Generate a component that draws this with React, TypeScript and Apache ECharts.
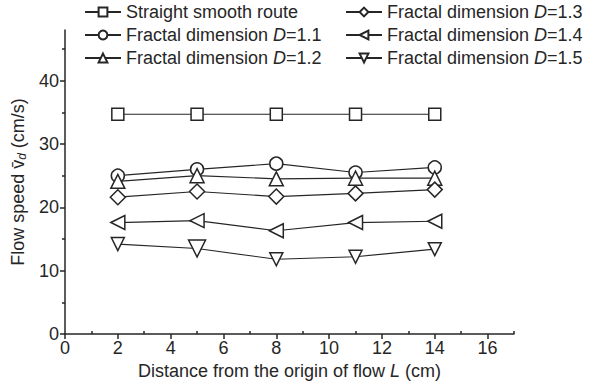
import React, { useEffect, useRef } from "react";
import * as echarts from "echarts";

const distanceL = [2, 5, 8, 11, 14];
const straightRoute = [34.7, 34.7, 34.7, 34.7, 34.7];
const fractal11 = [25.0, 26.0, 26.9, 25.5, 26.3];
const fractal12 = [24.1, 25.0, 24.5, 24.6, 24.6];
const fractal13 = [21.6, 22.5, 21.7, 22.2, 22.8];
const fractal14 = [17.6, 17.9, 16.3, 17.6, 17.8];
const fractal15 = [14.2, 13.5, 11.8, 12.2, 13.4];
const fractal15Sizes = [13, 17, 13, 13, 13];

const xMajorTicks = [0, 2, 4, 6, 8, 10, 12, 14, 16];
const xMinorTicks = [1, 3, 5, 7, 9, 11, 13, 15, 17];
const yMajorTicks = [0, 10, 20, 30, 40];
const yMinorTicks = [5, 15, 25, 35, 45];

const seriesNames = ["S", "D11", "D12", "D13", "D14", "D15"];
const legendLabels: Record<string, string> = {
  S: "{a|Straight smooth route}",
  D11: "{a|Fractal dimension }{i|D}{a|=1.1}",
  D12: "{a|Fractal dimension }{i|D}{a|=1.2}",
  D13: "{a|Fractal dimension }{i|D}{a|=1.3}",
  D14: "{a|Fractal dimension }{i|D}{a|=1.4}",
  D15: "{a|Fractal dimension }{i|D}{a|=1.5}",
};

const FONT = "Liberation Sans, Arial, sans-serif";
const INK = "#262626";
const FS = 18;

export default function App() {
  const ref = useRef<HTMLDivElement>(null);
  useEffect(() => {
    if (!ref.current) return;
    const chart = echarts.init(ref.current, undefined, { renderer: "svg" });
    const mk = (
      name: string,
      values: number[],
      symbol: string,
      size: number,
      rotate = 0,
      sizes?: number[]
    ) => ({
      name,
      type: "line",
      xAxisIndex: 0,
      yAxisIndex: 0,
      symbol,
      symbolSize: size,
      symbolRotate: rotate,
      showAllSymbol: true,
      lineStyle: { color: INK, width: 1.2 },
      itemStyle: { color: "#fff", borderColor: INK, borderWidth: 1.5 },
      data: values.map((v, i) =>
        sizes ? { value: [distanceL[i], v], symbolSize: sizes[i] } : [distanceL[i], v]
      ),
      z: 3,
    });
    const legendCommon = {
      orient: "vertical",
      itemWidth: 36,
      itemHeight: 11,
      itemGap: 5,
      padding: 0,
      formatter: (n: string) => legendLabels[n],
      textStyle: {
        color: INK,
        fontFamily: FONT,
        fontSize: FS,
        rich: {
          a: { fontFamily: FONT, fontSize: FS, color: INK },
          i: { fontFamily: FONT, fontSize: FS, color: INK, fontStyle: "italic" },
        },
      },
    };
    const axisCommon = {
      type: "value",
      splitLine: { show: false },
    };
    chart.setOption({
      animation: false,
      backgroundColor: "#fff",
      grid: { left: 65, right: 80, top: 30, bottom: 51, containLabel: false },
      legend: [
        { ...legendCommon, left: 84, top: 3, data: seriesNames.slice(0, 3) },
        { ...legendCommon, left: 345, top: 3, data: seriesNames.slice(3, 6) },
      ],
      xAxis: [
        {
          ...axisCommon,
          min: 0,
          max: 17,
          interval: 1,
          name: "Distance from the origin of flow {i|L} (cm)",
          nameLocation: "middle",
          nameGap: 28,
          nameTextStyle: {
            fontFamily: FONT,
            fontSize: FS,
            color: INK,
            rich: { i: { fontFamily: FONT, fontSize: FS, color: INK, fontStyle: "italic" } },
          },
          axisLine: { lineStyle: { color: INK, width: 1.5 } },
          axisTick: {
            customValues: xMajorTicks,
            length: 5,
            lineStyle: { color: INK, width: 1.5 },
          },
          axisLabel: {
            customValues: xMajorTicks,
            color: INK,
            fontFamily: FONT,
            fontSize: FS,
            margin: 5,
          },
        },
        {
          ...axisCommon,
          min: 0,
          max: 17,
          interval: 1,
          position: "bottom",
          axisLine: { show: false },
          axisTick: {
            customValues: xMinorTicks,
            inside: true,
            length: 3,
            lineStyle: { color: INK, width: 1.5 },
          },
          axisLabel: { show: false },
        },
      ],
      yAxis: [
        {
          ...axisCommon,
          min: 0,
          max: 48,
          interval: 10,
          name: "{a|Flow speed }{v|v\u0304}{s|d}{a| (cm/s)}",
          nameLocation: "middle",
          nameGap: 36,
          nameTextStyle: {
            fontFamily: FONT,
            fontSize: FS,
            color: INK,
            rich: {
              a: { fontFamily: FONT, fontSize: FS, color: INK },
              v: { fontFamily: FONT, fontSize: FS, color: INK },
              s: {
                fontFamily: FONT,
                fontSize: 12,
                color: INK,
                fontStyle: "italic",
                padding: [9, 0, 0, 0],
              },
            },
          },
          axisLine: { lineStyle: { color: INK, width: 1.5 } },
          axisTick: {
            customValues: yMajorTicks,
            length: 5,
            lineStyle: { color: INK, width: 1.5 },
          },
          axisLabel: {
            customValues: yMajorTicks,
            color: INK,
            fontFamily: FONT,
            fontSize: FS,
            margin: 6,
          },
        },
        {
          ...axisCommon,
          min: 0,
          max: 48,
          interval: 10,
          position: "left",
          axisLine: { show: false },
          axisTick: {
            customValues: yMinorTicks,
            length: 3,
            lineStyle: { color: INK, width: 1.5 },
          },
          axisLabel: { show: false },
        },
      ],
      series: [
        mk("S", straightRoute, "rect", 12),
        mk("D11", fractal11, "circle", 13),
        mk("D12", fractal12, "triangle", 14),
        mk("D13", fractal13, "diamond", 15),
        mk("D14", fractal14, "triangle", 14, 90),
        mk("D15", fractal15, "triangle", 13, 180, fractal15Sizes),
      ],
    });
    return () => chart.dispose();
  }, []);
  return <div ref={ref} style={{ width: 594, height: 385, position: "fixed", left: 0, top: 0 }} />;
}
